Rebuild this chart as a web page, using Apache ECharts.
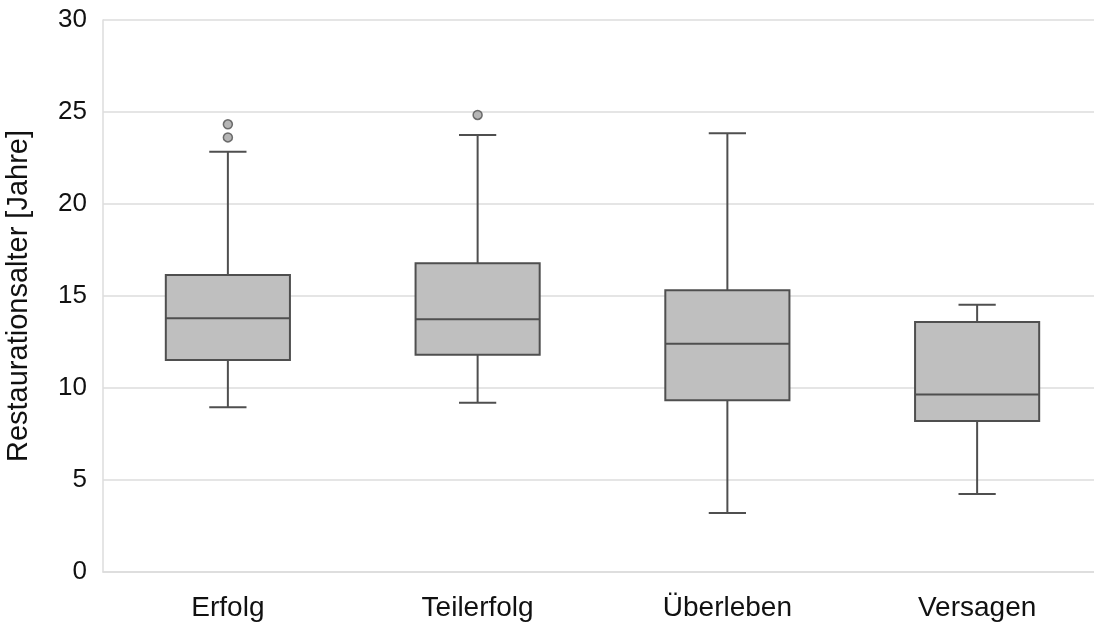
<!DOCTYPE html>
<html>
<head>
<meta charset="utf-8">
<script src="https://cdn.jsdelivr.net/npm/echarts@6/dist/echarts.min.js"></script>
<style>html,body{margin:0;padding:0;background:#fff;}#c{width:1094px;height:626px;}</style>
</head>
<body>
<div id="c"></div>
<script>
const categories = ['Erfolg', 'Teilerfolg', 'Überleben', 'Versagen'];
const lowerWhisker = [8.95, 9.2, 3.21, 4.24];
const q1 = [11.52, 11.81, 9.33, 8.21];
const median = [13.79, 13.73, 12.41, 9.64];
const q3 = [16.14, 16.78, 15.31, 13.59];
const upperWhisker = [22.84, 23.75, 23.84, 14.53];
const outliers = [
  ['Erfolg', 24.33],
  ['Erfolg', 23.62],
  ['Teilerfolg', 24.84]
];
const yTicks = [0, 5, 10, 15, 20, 25, 30];
const yName = 'Restaurationsalter [Jahre]';

const boxData = categories.map((c, i) => [i, lowerWhisker[i], q1[i], median[i], q3[i], upperWhisker[i]]);

const chart = echarts.init(document.getElementById('c'), null, {renderer: 'canvas'});
const font = '"Liberation Sans", Arial, sans-serif';
const stroke = '#4f4f4f';

function renderBox(params, api) {
  const idx = api.value(0);
  const lo = api.coord([idx, api.value(1)]);
  const b1 = api.coord([idx, api.value(2)]);
  const md = api.coord([idx, api.value(3)]);
  const b3 = api.coord([idx, api.value(4)]);
  const hi = api.coord([idx, api.value(5)]);
  const band = api.size([1, 0])[0];
  const bw = band * 0.497;
  const cw = bw * 0.3;
  const x = lo[0];
  const ls = {stroke: stroke, lineWidth: 2};
  return {
    type: 'group',
    children: [
      {type: 'line', shape: {x1: x, y1: lo[1], x2: x, y2: b1[1]}, style: ls},
      {type: 'line', shape: {x1: x, y1: b3[1], x2: x, y2: hi[1]}, style: ls},
      {type: 'line', shape: {x1: x - cw / 2, y1: lo[1], x2: x + cw / 2, y2: lo[1]}, style: ls},
      {type: 'line', shape: {x1: x - cw / 2, y1: hi[1], x2: x + cw / 2, y2: hi[1]}, style: ls},
      {type: 'rect', shape: {x: x - bw / 2, y: b3[1], width: bw, height: b1[1] - b3[1]},
        style: {fill: '#bfbfbf', stroke: stroke, lineWidth: 2}},
      {type: 'line', shape: {x1: x - bw / 2, y1: md[1], x2: x + bw / 2, y2: md[1]}, style: ls}
    ]
  };
}

chart.setOption({
  animation: false,
  backgroundColor: '#ffffff',
  grid: {left: 103, right: -8, top: 20, bottom: 54, containLabel: false, outerBoundsMode: 'none'},
  xAxis: {
    type: 'category',
    data: categories,
    boundaryGap: true,
    axisLine: {show: true, lineStyle: {color: '#dcdcdc', width: 1.5}},
    axisTick: {show: false},
    axisLabel: {color: '#111', fontSize: 28, fontFamily: font, margin: 22},
    splitLine: {show: false}
  },
  yAxis: {
    type: 'value',
    min: yTicks[0],
    max: yTicks[yTicks.length - 1],
    interval: 5,
    name: yName,
    nameLocation: 'middle',
    nameGap: 70,
    nameTextStyle: {color: '#111', fontSize: 29, fontFamily: font},
    axisLine: {show: true, lineStyle: {color: '#dcdcdc', width: 1.5}},
    axisTick: {show: false},
    axisLabel: {color: '#111', fontSize: 26, fontFamily: font, margin: 16},
    splitLine: {show: true, lineStyle: {color: '#dcdcdc', width: 1.5}}
  },
  series: [
    {
      type: 'custom',
      data: boxData,
      encode: {x: 0, y: [1, 2, 3, 4, 5]},
      renderItem: renderBox,
      z: 3
    },
    {
      type: 'scatter',
      data: outliers,
      symbol: 'circle',
      symbolSize: 9,
      itemStyle: {color: '#a3a3a3', borderColor: '#4f4f4f', borderWidth: 1.5},
      z: 5
    }
  ]
});
</script>
</body>
</html>
